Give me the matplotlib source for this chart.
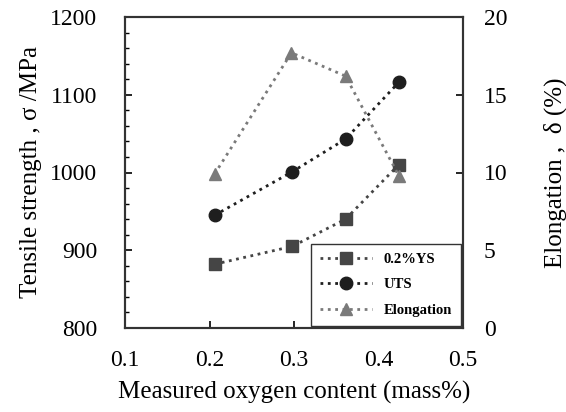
import matplotlib.pyplot as plt
from matplotlib.ticker import MultipleLocator

plt.rcParams['font.family'] = ['Liberation Serif', 'DejaVu Serif']

# values
oxygen = [0.206, 0.298, 0.361, 0.424]
ys02 = [882, 905, 940, 1010]
uts = [945, 1001, 1043, 1116]
elong_x = [0.206, 0.297, 0.361, 0.424]
elong = [9.9, 17.7, 16.2, 9.8]

fig = plt.figure(figsize=(5.66, 4.12), dpi=100)
ax = fig.add_axes([125/566, 1 - 328/412, (463 - 125)/566, (328 - 17)/412])
ax2 = ax.twinx()

l1, = ax.plot(oxygen, ys02, ls=':', lw=2, color='#454545', marker='s', ms=8,
              label='0.2%YS')
l2, = ax.plot(oxygen, uts, ls=':', lw=2, color='#1e1e1e', marker='o', ms=9,
              label='UTS')
l3, = ax2.plot(elong_x, elong, ls=':', lw=2, color='#7a7a7a', marker='^', ms=9,
               label='Elongation')

ax.set_xlim(0.1, 0.5)
ax.set_ylim(800, 1200)
ax2.set_ylim(0, 20)
ax.xaxis.set_major_locator(MultipleLocator(0.1))
ax.yaxis.set_major_locator(MultipleLocator(100))
ax.yaxis.set_minor_locator(MultipleLocator(20))
ax2.yaxis.set_major_locator(MultipleLocator(5))

ax.tick_params(axis='x', direction='in', length=5, width=1.2, pad=16, labelsize=17,
               top=False)
ax.tick_params(axis='y', which='major', direction='in', length=5, width=1.2, pad=20,
               labelsize=17)
ax.tick_params(axis='y', which='minor', direction='in', length=3, width=1)
ax2.tick_params(axis='y', direction='in', length=5, width=1.2, pad=15, labelsize=17)
for a in (ax, ax2):
    for s in a.spines.values():
        s.set_linewidth(1.5)
        s.set_color('#333333')

ax.set_xlabel('Measured oxygen content (mass%)', fontsize=18, labelpad=7)
ax.set_ylabel('Tensile strength , σ /MPa', fontsize=18, labelpad=6)
ax2.set_ylabel('Elongation ,  δ (%)', fontsize=18, labelpad=26)

leg = ax2.legend(handles=[l1, l2, l3], loc='lower right', fancybox=False,
                 edgecolor='#333333', framealpha=1, handlelength=3.6,
                 borderaxespad=0.15, labelspacing=0.85, borderpad=0.6,
                 prop={'size': 10.5, 'weight': 'bold'})
leg.get_frame().set_linewidth(1)

fig.savefig('out.png', dpi=100)
